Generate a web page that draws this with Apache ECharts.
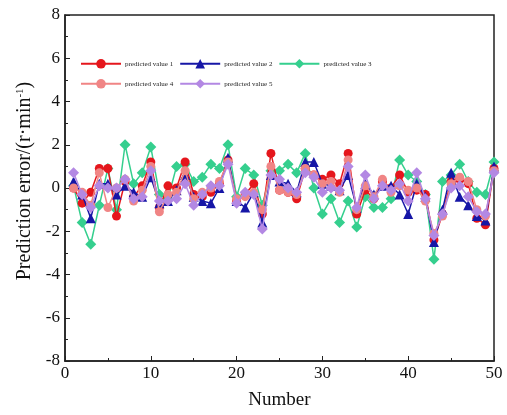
<!DOCTYPE html>
<html>
<head>
<meta charset="utf-8">
<script src="https://cdn.jsdelivr.net/npm/echarts@6/dist/echarts.min.js"></script>
<style>
html, body { margin: 0; padding: 0; background: #fff; }
#chart { width: 507px; height: 415px; }
</style>
</head>
<body>
<div id="chart"></div>
<script>
// Sample index 1..50
const numbers = Array.from({ length: 50 }, (_, i) => i + 1);

const seriesNames = ['predicted value 1', 'predicted value 2', 'predicted value 3', 'predicted value 4', 'predicted value 5'];

const value1 = [0.0, -0.7, -0.2, 0.9, 0.9, -1.3, 0.3, -0.4, 0.1, 1.2,
  -0.9, 0.1, 0.0, 1.2, -0.3, -0.4, -0.2, 0.2, 1.3, -0.6,
  -0.3, 0.2, -1.2, 1.6, -0.1, -0.2, -0.5, 0.9, 0.6, 0.4,
  0.6, 0.2, 1.6, -1.2, -0.1, -0.5, 0.3, 0.0, 0.6, -0.2,
  -0.1, -0.3, -2.4, -1.2, 0.3, 0.4, 0.2, -1.4, -1.7, 0.9];

const value2 = [0.3, -0.3, -1.4, 0.2, 0.2, -0.3, 0.1, -0.2, -0.4, 0.5,
  -0.7, -0.6, -0.1, 0.6, -0.4, -0.6, -0.7, 0.0, 1.4, -0.6,
  -0.9, -0.2, -1.6, 0.6, 0.3, 0.2, -0.2, 1.2, 1.2, 0.2,
  0.1, -0.1, 0.6, -0.9, 0.2, -0.3, 0.1, 0.1, -0.3, -1.2,
  0.2, -0.4, -2.5, -1.0, 0.7, -0.4, -0.8, -1.3, -1.5, 1.0];

const value3 = [0.1, -1.6, -2.6, -0.8, 0.9, -1.0, 2.0, 0.2, 0.7, 1.9,
  -0.3, -0.5, 1.0, 1.1, 0.3, 0.5, 1.1, 0.9, 2.0, -0.4,
  0.9, 0.6, -0.8, 0.8, 0.8, 1.1, 0.7, 1.6, 0.0, -1.2,
  -0.5, -1.6, -0.6, -1.8, -0.4, -0.9, -0.9, -0.5, 1.3, 0.6,
  0.3, -0.3, -3.3, 0.3, 0.6, 1.1, 0.3, -0.2, -0.3, 1.2];

const value4 = [0.0, -0.2, -0.8, 0.7, -0.9, 0.0, 0.4, -0.6, -0.1, 1.0,
  -1.1, -0.3, -0.2, 0.8, -0.5, -0.2, 0.0, 0.3, 1.2, -0.5,
  -0.4, -0.2, -1.0, 1.0, -0.1, -0.2, -0.3, 0.9, 0.6, 0.2,
  0.3, -0.2, 1.3, -1.0, 0.1, -0.4, 0.4, -0.2, 0.1, -0.1,
  0.0, -0.6, -2.1, -1.3, 0.2, 0.5, 0.3, -1.0, -1.3, 0.8];

const value5 = [0.7, -0.3, -0.9, 0.1, 0.0, 0.0, 0.4, -0.5, -0.4, 0.8,
  -0.6, -0.6, -0.5, 0.2, -0.8, -0.3, 0.1, 0.1, 1.1, -0.7,
  -0.2, -0.3, -1.9, 0.6, 0.4, 0.0, -0.2, 0.7, 0.5, -0.2,
  0.0, -0.1, 1.0, -0.9, 0.6, -0.5, 0.1, -0.1, 0.2, -0.6,
  0.7, -0.5, -2.2, -1.2, 0.0, 0.1, -0.4, -1.1, -1.2, 0.7];

const allValues = [value1, value2, value3, value4, value5];
const colors = ['#e5161c', '#1616a6', '#35cf8e', '#f08585', '#b388e3'];
const symbols = ['circle', 'triangle', 'diamond', 'circle', 'diamond'];
const symbolSizes = [9, 10, 11, 9, 11];

const serif = 'Liberation Serif, Times New Roman, serif';

const chart = echarts.init(document.getElementById('chart'), null, { renderer: 'canvas' });

const series = allValues.map((vals, k) => ({
  name: seriesNames[k],
  type: 'line',
  data: numbers.map((n, i) => [n, vals[i]]),
  symbol: symbols[k],
  symbolSize: symbolSizes[k],
  z: k === 2 ? 1 : 2 + k,
  lineStyle: { color: colors[k], width: 1.5 },
  itemStyle: { color: colors[k] }
}));

const legendCommon = {
  left: 75,
  itemWidth: 40,
  itemHeight: 12,
  itemGap: 6,
  textStyle: { fontFamily: serif, fontSize: 7, color: '#222', padding: [2, 0, 0, -1] }
};

chart.setOption({
  animation: false,
  backgroundColor: '#fff',
  legend: [
    Object.assign({ top: 54, data: seriesNames.slice(0, 3) }, legendCommon),
    Object.assign({ top: 74, data: seriesNames.slice(3) }, legendCommon)
  ],
  grid: {
    left: 65, right: 13, top: 15, bottom: 54,
    show: true, borderColor: '#222', borderWidth: 1.5, backgroundColor: 'transparent'
  },
  xAxis: {
    type: 'value', min: 0, max: 50, interval: 10,
    name: 'Number', nameLocation: 'middle', nameGap: 30,
    nameTextStyle: { fontFamily: serif, fontSize: 19, color: '#111' },
    axisLine: { show: true, onZero: false, lineStyle: { color: '#222', width: 1.5 } },
    axisTick: { inside: true, length: 5, lineStyle: { color: '#222' } },
    minorTick: { show: true, splitNumber: 2, length: 3, lineStyle: { color: '#222' } },
    splitLine: { show: false },
    axisLabel: { fontFamily: serif, fontSize: 17, color: '#111', margin: 4 }
  },
  yAxis: {
    type: 'value', min: -8, max: 8, interval: 2,
    name: 'Prediction error/(r·min{sup|-1})', nameLocation: 'middle', nameGap: 28,
    nameTextStyle: {
      fontFamily: serif, fontSize: 20, color: '#111', padding: [0, 0, 0, 14],
      rich: { sup: { fontFamily: serif, fontSize: 11, color: '#111', verticalAlign: 'top', padding: [0, 0, 8, 0] } }
    },
    axisLine: { show: true, onZero: false, lineStyle: { color: '#222', width: 1.5 } },
    axisTick: { inside: true, length: 5, lineStyle: { color: '#222' } },
    minorTick: { show: true, splitNumber: 2, length: 3, lineStyle: { color: '#222' } },
    splitLine: { show: false },
    axisLabel: { fontFamily: serif, fontSize: 17, color: '#111', margin: 5 }
  },
  series: series
});
</script>
</body>
</html>
